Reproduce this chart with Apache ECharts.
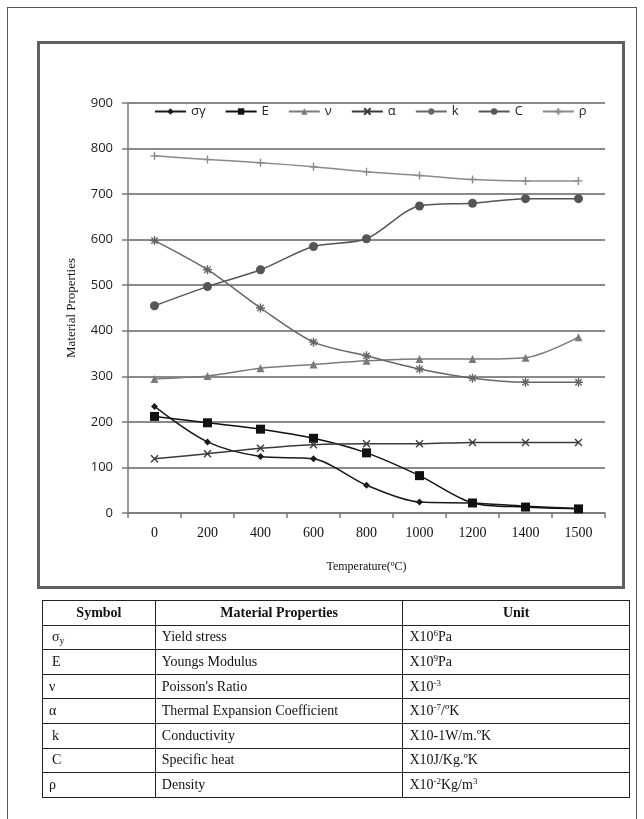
<!DOCTYPE html>
<html>
<head>
<meta charset="utf-8">
<script src="https://cdn.jsdelivr.net/npm/echarts@6/dist/echarts.min.js"></script>
<style>
  html, body { margin: 0; padding: 0; background: #fff; width: 644px; height: 819px; overflow: hidden; }
  #page { position: absolute; left: 7px; top: 7px; width: 630px; height: 830px; border: 1px solid #555; box-sizing: border-box; }
  #frame { position: absolute; left: 37px; top: 41px; width: 588px; height: 548px; border: 3px solid #606060; box-sizing: border-box; }
  #chart { position: absolute; left: 0; top: 0; width: 644px; height: 819px; }
  #tbl { position: absolute; left: 42px; top: 600px; width: 588px; border-collapse: collapse; font-family: "Liberation Serif", "DejaVu Serif", serif; font-size: 14px; color: #111; }
  #tbl td, #tbl th { border: 1.5px solid #222; height: 23.6px; padding: 0 0 0 6px; line-height: 16px; text-align: left; font-weight: normal; }
  #tbl th { font-weight: bold; text-align: center; padding: 0; }
  #tbl td.s { padding-left: 9px; }
  sup { font-size: 9px; vertical-align: 5px; line-height: 0; }
  sub { font-size: 10px; vertical-align: -3px; line-height: 0; }
</style>
</head>
<body>
<div id="page"></div>
<div id="frame"></div>
<div id="chart"></div>
<table id="tbl">
  <colgroup><col style="width:113px"><col style="width:248px"><col style="width:227px"></colgroup>
  <tr><th>Symbol</th><th>Material Properties</th><th>Unit</th></tr>
  <tr><td class="s">σ<sub>y</sub></td><td>Yield stress</td><td>X10<sup>6</sup>Pa</td></tr>
  <tr><td class="s">E</td><td>Youngs Modulus</td><td>X10<sup>9</sup>Pa</td></tr>
  <tr><td>ν</td><td>Poisson's Ratio</td><td>X10<sup>-3</sup></td></tr>
  <tr><td>α</td><td>Thermal Expansion Coefficient</td><td>X10<sup>-7</sup>/ºK</td></tr>
  <tr><td class="s">k</td><td>Conductivity</td><td>X10-1W/m.ºK</td></tr>
  <tr><td class="s">C</td><td>Specific heat</td><td>X10J/Kg.ºK</td></tr>
  <tr><td>ρ</td><td>Density</td><td>X10<sup>-2</sup>Kg/m<sup>3</sup></td></tr>
</table>
<script>
// ---- data ----
var temperatures = ['0', '200', '400', '600', '800', '1000', '1200', '1400', '1500'];
var yieldStress   = [234, 156, 124, 119, 61, 24, 22, 15, 10];     // σy
var youngsModulus = [212, 198, 184, 164, 132, 82, 22, 13, 9];     // E
var poissonRatio  = [294, 301, 318, 326, 334, 338, 338, 341, 386]; // ν
var thermalExp    = [119, 130, 142, 150, 152, 152, 155, 155, 155]; // α
var conductivity  = [598, 534, 450, 375, 345, 316, 296, 287, 287]; // k
var specificHeat  = [455, 497, 534, 585, 602, 674, 680, 690, 690]; // C
var density       = [784, 776, 769, 760, 749, 741, 732, 729, 729]; // ρ
var yTicks = [0, 100, 200, 300, 400, 500, 600, 700, 800, 900];

var symX = 'path://M0,0L10,10M10,0L0,10';
var symStar = 'path://M5,0L5,10M0,5L10,5M1.5,1.5L8.5,8.5M8.5,1.5L1.5,8.5';
var symPlus = 'path://M5,0L5,10M0,5L10,5';

function mk(name, data, color, symbol, size, stroke) {
  var s = {
    name: name, type: 'line', data: data, smooth: 0.3,
    symbol: symbol, symbolSize: size, showSymbol: true,
    color: color,
    lineStyle: { color: color, width: 1.5 },
    itemStyle: { color: color }
  };
  if (stroke) {
    s.itemStyle = { color: color, borderColor: color, borderWidth: 1.4 };
  }
  return s;
}

var chart = echarts.init(document.getElementById('chart'), null, { renderer: 'canvas' });
chart.setOption({
  animation: false,
  backgroundColor: 'transparent',
  grid: { left: 128, right: 39, top: 103, bottom: 306, containLabel: false },
  legend: {
    left: 149, top: 100, itemWidth: 31, itemHeight: 8, itemGap: 19,
    textStyle: { fontFamily: 'Open Sans, Liberation Sans, sans-serif', fontSize: 13, color: '#222' },
    data: ['σγ', 'E', 'ν', 'α', 'k', 'C', 'ρ']
  },
  xAxis: {
    type: 'category', data: temperatures, boundaryGap: true,
    name: 'Temperature(ºC)', nameLocation: 'middle', nameGap: 48,
    nameTextStyle: { fontFamily: 'Liberation Serif, serif', fontSize: 12, color: '#111' },
    axisLine: { lineStyle: { color: '#7a7a7a', width: 1.5 } },
    axisTick: { show: true, inside: false, length: 5, alignWithLabel: false, lineStyle: { color: '#7a7a7a', width: 1.5 } },
    axisLabel: { margin: 13, fontFamily: 'Liberation Serif, serif', fontSize: 14, color: '#111' }
  },
  yAxis: {
    type: 'value', min: 0, max: 900, interval: 100,
    name: 'Material Properties', nameLocation: 'middle', nameGap: 50, nameRotate: 90,
    nameTextStyle: { fontFamily: 'Liberation Serif, serif', fontSize: 13, color: '#111' },
    axisLine: { show: true, lineStyle: { color: '#7a7a7a', width: 1.5 } },
    axisTick: { show: true, inside: false, length: 6, lineStyle: { color: '#7a7a7a', width: 1.5 } },
    axisLabel: { margin: 15, fontFamily: 'Open Sans, Liberation Sans, sans-serif', fontSize: 13, color: '#222',
      formatter: function (v) { return yTicks.indexOf(v) >= 0 ? String(v) : ''; } },
    splitLine: { show: true, lineStyle: { color: '#8a8a8a', width: 2 } }
  },
  series: [
    mk('σγ', yieldStress, '#1a1a1a', 'diamond', 7),
    mk('E', youngsModulus, '#111111', 'rect', 9),
    mk('ν', poissonRatio, '#7a7a7a', 'triangle', 8),
    mk('α', thermalExp, '#3a3a3a', symX, 7, true),
    mk('k', conductivity, '#666666', symStar, 9, true),
    mk('C', specificHeat, '#555555', 'circle', 9),
    mk('ρ', density, '#8a8a8a', symPlus, 8, true)
  ]
});
</script>
</body>
</html>
